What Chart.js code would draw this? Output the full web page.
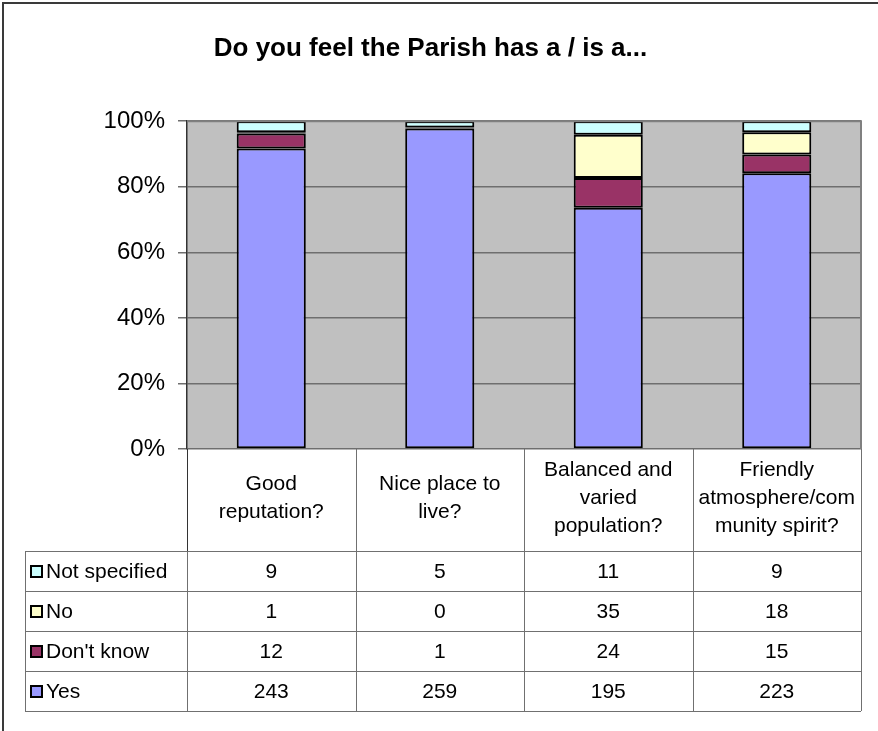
<!DOCTYPE html>
<html>
<head>
<meta charset="utf-8">
<script src="https://cdn.jsdelivr.net/npm/chart.js@4"></script>
<style>
  body { margin: 0; background: #fff; }
  #wrap { width: 878px; height: 731px; }
</style>
</head>
<body>
<div id="wrap"><canvas id="chart" width="878" height="731"></canvas></div>
<script>
// data
const categories = [
  ['Good', 'reputation?'],
  ['Nice place to', 'live?'],
  ['Balanced and', 'varied', 'population?'],
  ['Friendly', 'atmosphere/com', 'munity spirit?']
];
const seriesNames = ['Yes', "Don't know", 'No', 'Not specified'];
const yesCounts = [243, 259, 195, 223];
const dontKnowCounts = [12, 1, 24, 15];
const noCounts = [1, 0, 35, 18];
const notSpecifiedCounts = [9, 5, 11, 9];
const percentTicks = [0, 20, 40, 60, 80, 100];

const colors = ['#9999FF', '#993366', '#FFFFCC', '#CCFFFF'];
const counts = [yesCounts, dontKnowCounts, noCounts, notSpecifiedCounts];
const totals = categories.map((c, i) => counts.reduce((s, arr) => s + arr[i], 0));
const FONT = "'Liberation Sans', Arial, sans-serif";

// table geometry (below the plot)
const tableLeft = 25;
const headerBottom = 551;
const rowH = 40;

const tablePlugin = {
  id: 'dataTable',
  beforeDraw(chart) {
    const { ctx, chartArea: a } = chart;
    ctx.save();
    ctx.fillStyle = '#C0C0C0';
    ctx.fillRect(a.left, a.top, a.right - a.left, a.bottom - a.top);
    ctx.restore();
  },
  afterDraw(chart) {
    const { ctx, chartArea: a } = chart;
    const x = chart.scales.x;
    const colW = x.getPixelForValue(1) - x.getPixelForValue(0);
    const tableBottom = headerBottom + rowH * 4;
    ctx.save();

    // plot frame top / right
    ctx.strokeStyle = '#808080';
    ctx.lineWidth = 2;
    ctx.beginPath();
    ctx.moveTo(a.left, a.top);
    ctx.lineTo(a.right, a.top);
    ctx.lineTo(a.right, a.bottom);
    ctx.stroke();

    // table grid
    ctx.strokeStyle = '#707070';
    ctx.lineWidth = 1;
    ctx.beginPath();
    for (let k = 0; k <= categories.length; k++) {
      const px = Math.round(a.left + k * colW) + 0.5;
      ctx.moveTo(px, a.bottom);
      ctx.lineTo(px, tableBottom);
    }
    ctx.moveTo(tableLeft + 0.5, headerBottom);
    ctx.lineTo(tableLeft + 0.5, tableBottom);
    for (let r = 0; r <= 4; r++) {
      const py = headerBottom + r * rowH + 0.5;
      ctx.moveTo(tableLeft, py);
      ctx.lineTo(a.right, py);
    }
    ctx.stroke();

    // axis line continues through header
    ctx.strokeStyle = '#333';
    ctx.beginPath();
    ctx.moveTo(a.left + 0.5, a.bottom);
    ctx.lineTo(a.left + 0.5, headerBottom);
    ctx.stroke();

    ctx.fillStyle = '#000';
    ctx.font = '21px ' + FONT;
    ctx.textAlign = 'center';
    ctx.textBaseline = 'middle';

    // category header
    const headMid = (a.bottom + headerBottom) / 2 - 2;
    categories.forEach((lines, i) => {
      const cx = x.getPixelForValue(i);
      const lh = 28;
      const y0 = headMid - (lines.length - 1) * lh / 2;
      lines.forEach((t, j) => ctx.fillText(t, cx, y0 + j * lh));
    });

    // rows: top row is the top series
    for (let r = 0; r < 4; r++) {
      const s = 3 - r;
      const cy = headerBottom + r * rowH + rowH / 2 + 1;
      ctx.fillStyle = colors[s];
      ctx.fillRect(31, cy - 6, 11, 11);
      ctx.strokeStyle = '#000';
      ctx.lineWidth = 2;
      ctx.strokeRect(31, cy - 6, 11, 11);
      ctx.fillStyle = '#000';
      ctx.textAlign = 'left';
      ctx.fillText(seriesNames[s], 46, cy);
      ctx.textAlign = 'center';
      counts[s].forEach((v, i) => ctx.fillText(String(v), x.getPixelForValue(i), cy));
    }

    // outer frame (top and left edges visible)
    ctx.strokeStyle = '#3a3a3a';
    ctx.lineWidth = 2;
    ctx.beginPath();
    ctx.moveTo(3, 731);
    ctx.lineTo(3, 3);
    ctx.lineTo(878, 3);
    ctx.stroke();
    ctx.restore();
  }
};

new Chart(document.getElementById('chart'), {
  type: 'bar',
  data: {
    labels: categories,
    datasets: seriesNames.map((name, s) => ({
      label: name,
      data: counts[s].map((v, i) => v / totals[i] * 100),
      backgroundColor: colors[s],
      borderColor: '#000',
      borderWidth: 2,
      borderSkipped: false,
      categoryPercentage: 1,
      barPercentage: 0.41
    }))
  },
  options: {
    responsive: false,
    animation: false,
    layout: { padding: { left: 0, right: 17, top: 0, bottom: 282 } },
    plugins: {
      legend: { display: false },
      tooltip: { enabled: false },
      title: {
        display: true,
        text: 'Do you feel the Parish has a / is a...',
        color: '#000',
        font: { family: FONT, size: 26, weight: 'bold' },
        padding: { top: 33, bottom: 57 }
      }
    },
    scales: {
      x: { stacked: true, display: false },
      y: {
        stacked: true,
        min: 0,
        max: 100,
        afterFit(scale) { scale.width = 187; },
        afterBuildTicks(scale) { scale.ticks = percentTicks.map(v => ({ value: v })); },
        ticks: {
          color: '#000',
          padding: 13,
          font: { family: FONT, size: 24 },
          callback: v => v + '%'
        },
        grid: { color: '#6e6e6e', lineWidth: 1.5, tickLength: 9, tickColor: '#6e6e6e' },
        border: { color: '#333', width: 1.5 }
      }
    }
  },
  plugins: [tablePlugin]
});
</script>
</body>
</html>
